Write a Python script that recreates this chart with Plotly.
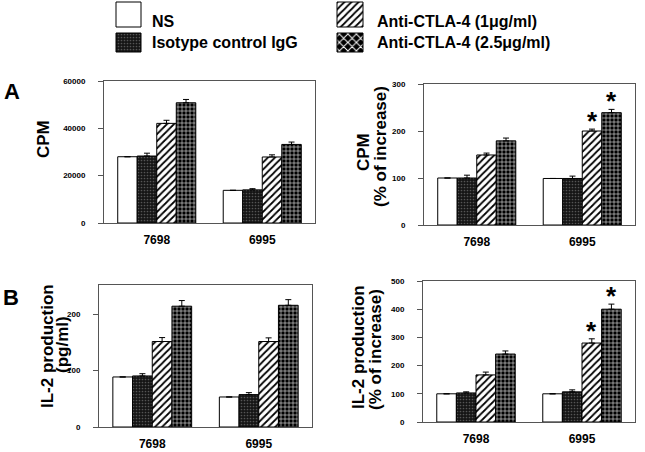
import plotly.graph_objects as go

W, H = 645, 452
FONT = "Liberation Sans, Arial, sans-serif"

# ---------------- data ----------------
cells = ["7698", "6995"]
groups = ["NS", "Isotype control IgG", "Anti-CTLA-4 (1\u03bcg/ml)", "Anti-CTLA-4 (2.5\u03bcg/ml)"]

cpm_ns = [28000, 13800]
cpm_iso = [28300, 14000]
cpm_a1 = [42100, 27900]
cpm_a25 = [50800, 33200]
cpm_ns_err = [0, 0]
cpm_iso_err = [1200, 500]
cpm_a1_err = [1300, 900]
cpm_a25_err = [1400, 1000]

cpmpct_ns = [100, 99]
cpmpct_iso = [100, 99]
cpmpct_a1 = [149, 200]
cpmpct_a25 = [179, 239]
cpmpct_ns_err = [0, 0]
cpmpct_iso_err = [6, 5]
cpmpct_a1_err = [4, 4]
cpmpct_a25_err = [6, 7]

il2_ns = [88.8, 53.3]
il2_iso = [90.6, 57.5]
il2_a1 = [151.7, 151.7]
il2_a25 = [214.4, 216]
il2_ns_err = [0, 0]
il2_iso_err = [4, 3.5]
il2_a1_err = [7, 6.5]
il2_a25_err = [10, 10]

il2pct_ns = [100, 100]
il2pct_iso = [103, 107]
il2pct_a1 = [167, 280]
il2pct_a25 = [241, 400]
il2pct_ns_err = [0, 0]
il2pct_iso_err = [4, 7]
il2pct_a1_err = [10, 15]
il2pct_a25_err = [11, 18]

# significance marks: (panel, cell, group index)
signif = [(2, "6995", 2), (2, "6995", 3), (4, "6995", 2), (4, "6995", 3)]

# ---------------- styles ----------------
styles = [
    dict(color="white"),
    dict(color="#111", pattern=dict(shape=".", fillmode="replace", bgcolor="#151515", fgcolor="#555", size=3, solidity=0.25)),
    dict(color="white", pattern=dict(shape="/", fillmode="replace", bgcolor="white", fgcolor="black", size=5, solidity=0.35)),
    dict(color="black", pattern=dict(shape="+", fillmode="replace", bgcolor="black", fgcolor="white", size=4, solidity=0.25)),
]
legend_styles = [
    styles[0], styles[1], styles[2],
    dict(color="black", pattern=dict(shape="x", fillmode="replace", bgcolor="black", fgcolor="white", size=6, solidity=0.3)),
]

# panel boxes in pixels: (x0, x1, top, bottom)
boxes = {1: (104, 315, 81, 223), 2: (424, 635, 84, 225), 3: (99, 312, 285, 427), 4: (423, 635, 281, 422)}
yranges = {1: [0, 60000], 2: [0, 300], 3: [0, 252], 4: [0, 500]}
ytickvals = {1: [0, 20000, 40000, 60000], 2: [0, 100, 200, 300], 3: [0, 100, 200], 4: [0, 100, 200, 300, 400, 500]}
BARGAP = 0.26

panel_data = {
    1: ([cpm_ns, cpm_iso, cpm_a1, cpm_a25], [cpm_ns_err, cpm_iso_err, cpm_a1_err, cpm_a25_err]),
    2: ([cpmpct_ns, cpmpct_iso, cpmpct_a1, cpmpct_a25], [cpmpct_ns_err, cpmpct_iso_err, cpmpct_a1_err, cpmpct_a25_err]),
    3: ([il2_ns, il2_iso, il2_a1, il2_a25], [il2_ns_err, il2_iso_err, il2_a1_err, il2_a25_err]),
    4: ([il2pct_ns, il2pct_iso, il2pct_a1, il2pct_a25], [il2pct_ns_err, il2pct_iso_err, il2pct_a1_err, il2pct_a25_err]),
}

fig = go.Figure()
layout = dict(width=W, height=H, margin=dict(l=0, r=0, t=0, b=0, autoexpand=False),
              paper_bgcolor="white", plot_bgcolor="rgba(0,0,0,0)",
              barmode="group", bargap=BARGAP, bargroupgap=0, showlegend=False,
              font=dict(family=FONT, color="black"))
annotations = []

def sfx(i):
    return "" if i == 1 else str(i)

for p, (vals, errs) in panel_data.items():
    x0, x1, top, bot = boxes[p]
    for g in range(4):
        fig.add_trace(go.Bar(
            x=cells, y=vals[g], name=groups[g],
            xaxis="x" + sfx(p), yaxis="y" + sfx(p),
            marker=dict(line=dict(color="black", width=1), **styles[g]),
            error_y=dict(type="data", symmetric=False, array=errs[g], arrayminus=[0] * len(cells),
                         color="black", thickness=1, width=3),
        ))
    axis_common = dict(showline=True, linecolor="#555", linewidth=1, mirror=True,
                       showgrid=False, zeroline=False, automargin=False)
    layout["xaxis" + sfx(p)] = dict(domain=[x0 / W, x1 / W], anchor="y" + sfx(p), ticks="",
                                    type="category", categoryorder="array", categoryarray=cells,
                                    range=[-0.5, len(cells) - 0.5],
                                    tickfont=dict(size=12, family=FONT, weight="bold", color="black"),
                                    ticklabelstandoff=6, **axis_common)
    layout["yaxis" + sfx(p)] = dict(domain=[1 - bot / H, 1 - top / H], anchor="x" + sfx(p),
                                    range=yranges[p], tickvals=ytickvals[p], tickformat="d",
                                    ticks="outside", ticklen=5, tickcolor="#555",
                                    tickfont=dict(size=8, family=FONT, weight="bold", color="black"),
                                    ticklabelstandoff=11, **axis_common)

# significance asterisks (x given as category index)
for p, cell, g in signif:
    x0, x1, top, bot = boxes[p]
    vals, errs = panel_data[p]
    i = cells.index(cell)
    band = (x1 - x0) / len(cells)
    barw = band * (1 - BARGAP) / 4
    shift = (g - 1.5) * barw
    annotations.append(dict(x=i, y=vals[g][i] + errs[g][i], xref="x" + sfx(p), yref="y" + sfx(p),
                            text="*", showarrow=False, xshift=shift, yshift=8, yanchor="middle",
                            font=dict(size=26, family=FONT, weight="bold")))

# axis titles (each line as its own rotated label)
titles = [
    ("CPM", 43, 139),
    ("CPM", 363, 152), ("(% of increase)", 380, 147),
    ("IL-2 production", 47, 346), ("(pg/ml)", 62, 345),
    ("IL-2 production", 358, 347), ("(% of increase)", 375, 350),
]
for t, px, py in titles:
    annotations.append(dict(x=px / W, y=1 - py / H, xref="paper", yref="paper", text=t, textangle=-90,
                            showarrow=False, xanchor="center", yanchor="middle",
                            font=dict(size=17, family=FONT, weight="bold")))

# panel letters
for t, px, py in [("A", 12, 92), ("B", 11, 297)]:
    annotations.append(dict(x=px / W, y=1 - py / H, xref="paper", yref="paper", text=t, showarrow=False,
                            xanchor="center", yanchor="middle", font=dict(size=22, family=FONT, weight="bold")))

# custom legend (swatches drawn as bars on an overlay axis in pixel units)
legend_pos = [(116, 25, 2, 25, 150, 21), (116, 25, 33, 19, 150, 42),
              (337, 26, 2, 25, 375, 22), (337, 26, 33, 19, 375, 42)]
for g, (lx, lw, ly, lh, tx, ty) in enumerate(legend_pos):
    fig.add_trace(go.Bar(x=[lx], y=[lh], base=[ly], width=[lw], offset=0,
                         xaxis="x5", yaxis="y5", hoverinfo="skip",
                         marker=dict(line=dict(color="black", width=1), **legend_styles[g])))
    annotations.append(dict(x=tx / W, y=1 - ty / H, xref="paper", yref="paper", text=groups[g],
                            showarrow=False, xanchor="left", yanchor="middle",
                            font=dict(size=16, family=FONT, weight="bold")))
layout["xaxis5"] = dict(domain=[0, 1], anchor="y5", range=[0, W], visible=False, fixedrange=True,
                        automargin=False)
layout["yaxis5"] = dict(domain=[0, 1], anchor="x5", range=[H, 0], visible=False, fixedrange=True,
                        automargin=False)

layout["annotations"] = annotations
fig.update_layout(**layout)
fig.write_html("out.html", config={"displayModeBar": False},
               post_script="document.body.style.margin='0';document.body.style.overflow='hidden';")
